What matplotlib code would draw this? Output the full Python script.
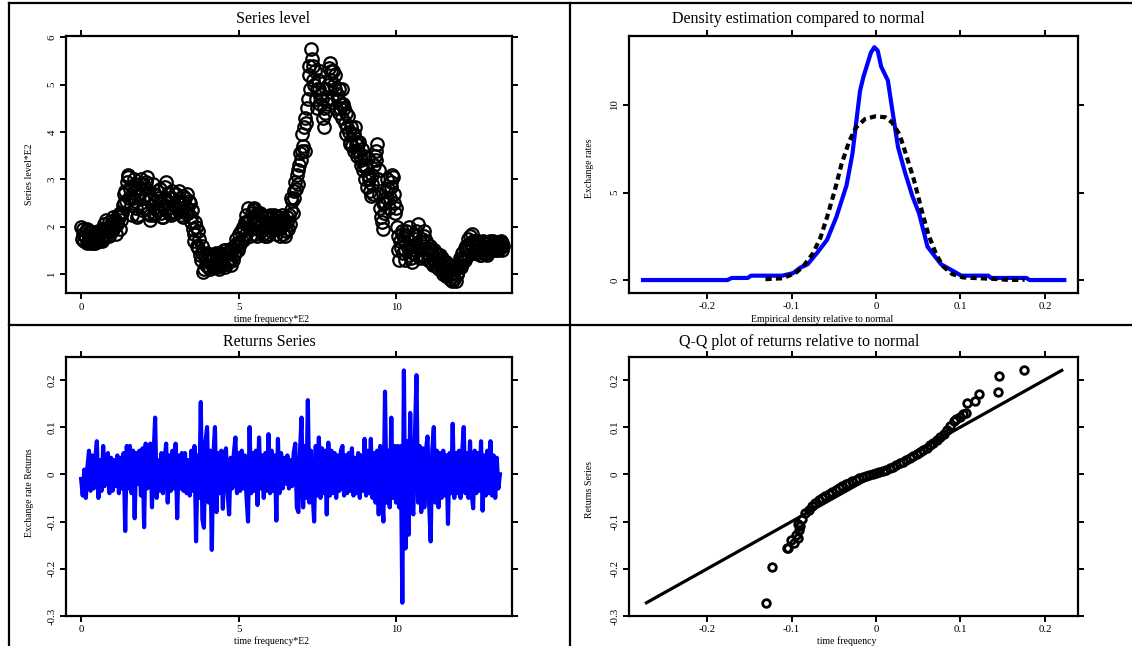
import matplotlib
matplotlib.use('Agg')
import matplotlib.pyplot as plt
from matplotlib.lines import Line2D
import numpy as np

plt.rcParams['font.family'] = ['Liberation Serif', 'DejaVu Serif']
plt.rcParams['axes.unicode_minus'] = False

# series level (*E2), one value every 0.025 time units
level = [
    2.0, 1.75, 1.85, 1.95, 1.7, 1.8, 1.9, 1.65, 1.95, 1.7, 1.75, 1.9, 1.65, 1.75, 1.8, 1.65, 1.8, 1.7, 1.65, 1.8,
    1.7, 1.9, 1.85, 1.7, 1.85, 1.75, 1.7, 1.95, 1.75, 2.05, 1.95, 1.8, 2.15, 1.95, 1.9, 2.1, 1.8, 2.0, 2.05, 1.9,
    2.2, 1.95, 2.0, 2.15, 1.85, 2.05, 2.1, 2.25, 2.2, 1.95, 2.3, 2.15, 2.3, 2.45, 2.5, 2.7, 2.75, 2.55, 2.95, 3.05,
    3.1, 2.6, 2.8, 2.45, 2.25, 2.85, 2.6, 3.0, 2.9, 2.55, 2.4, 2.2, 2.25, 2.8, 2.7, 2.9, 3.0, 2.35, 2.6, 2.9,
    2.4, 2.65, 2.8, 2.95, 3.05, 2.3, 2.6, 2.25, 2.15, 2.6, 2.45, 2.9, 2.7, 2.25, 2.3, 2.55, 2.35, 2.75, 2.6, 2.35,
    2.8, 2.3, 2.5, 2.2, 2.2, 2.45, 2.6, 2.85, 2.95, 2.5, 2.7, 2.3, 2.4, 2.6, 2.25, 2.75, 2.6, 2.3, 2.45, 2.7,
    2.3, 2.7, 2.55, 2.35, 2.75, 2.4, 2.5, 2.25, 2.35, 2.65, 2.2, 2.5, 2.6, 2.3, 2.4, 2.7, 2.3, 2.55, 2.5, 2.2,
    2.1, 2.35, 1.95, 1.7, 1.85, 2.1, 2.0, 1.6, 1.55, 1.9, 1.75, 1.4, 1.3, 1.6, 1.45, 1.05, 1.1, 1.4, 1.3, 1.2,
    1.45, 1.15, 1.25, 1.4, 1.1, 1.35, 1.3, 1.15, 1.4, 1.2, 1.2, 1.45, 1.15, 1.35, 1.35, 1.1, 1.45, 1.2, 1.25, 1.4,
    1.2, 1.5, 1.4, 1.15, 1.5, 1.25, 1.3, 1.45, 1.25, 1.5, 1.45, 1.2, 1.55, 1.3, 1.4, 1.6, 1.45, 1.75, 1.65, 1.5,
    1.85, 1.6, 1.65, 1.9, 1.7, 2.0, 1.95, 1.75, 2.1, 1.85, 2.25, 2.1, 2.4, 2.0, 2.15, 1.8, 1.95, 2.3, 2.2, 2.4,
    2.35, 1.85, 2.05, 2.3, 1.8, 2.15, 2.0, 2.3, 2.25, 1.9, 2.1, 1.85, 2.0, 2.2, 1.8, 2.1, 1.8, 2.2, 2.05, 1.85,
    2.25, 1.9, 2.05, 2.2, 1.95, 2.25, 2.15, 1.85, 2.2, 1.95, 1.95, 2.2, 1.8, 2.1, 2.0, 2.25, 2.15, 1.85, 2.05, 1.8,
    1.9, 2.2, 2.1, 1.95, 2.25, 2.05, 2.35, 2.6, 2.55, 2.3, 2.75, 2.6, 2.95, 2.8, 3.1, 2.9, 3.2, 3.3, 3.55, 3.4,
    3.95, 3.6, 3.7, 4.1, 3.6, 4.3, 4.2, 4.5, 4.7, 5.4, 5.2, 4.9, 5.75, 5.55, 5.4, 5.1, 5.0, 5.3, 4.7, 4.9,
    4.5, 5.1, 4.9, 4.6, 5.3, 4.8, 4.7, 4.3, 4.1, 4.5, 4.4, 4.9, 4.7, 4.6, 5.0, 5.35, 5.45, 5.1, 5.3, 4.7,
    5.3, 5.0, 4.9, 5.2, 4.5, 4.8, 4.7, 4.4, 4.9, 4.5, 4.6, 4.9, 4.3, 4.6, 4.5, 4.2, 4.4, 3.95, 4.1, 4.35,
    4.0, 3.75, 3.8, 4.1, 3.7, 3.95, 3.95, 3.6, 4.1, 3.75, 3.8, 3.5, 3.6, 3.8, 3.5, 3.3, 3.4, 3.65, 3.2, 3.5,
    3.0, 3.3, 3.25, 2.85, 3.45, 3.1, 3.0, 2.75, 2.65, 3.1, 2.9, 2.7, 3.3, 3.5, 3.6, 3.4, 3.75, 3.0, 3.2, 2.7,
    2.4, 2.2, 2.1, 2.5, 1.95, 2.3, 2.5, 2.75, 3.0, 2.6, 2.8, 2.4, 2.6, 2.95, 2.85, 3.1, 3.05, 2.5, 2.7, 2.3,
    2.4, 2.0, 1.8, 1.5, 1.3, 1.7, 1.55, 1.85, 1.9, 1.45, 1.7, 1.3, 1.5, 1.9, 1.8, 1.55, 2.0, 1.4, 1.6, 1.35,
    1.25, 1.6, 1.45, 1.85, 1.75, 1.5, 1.9, 1.6, 2.05, 1.55, 1.7, 1.35, 1.4, 1.75, 1.6, 1.9, 1.8, 1.35, 1.7, 1.45,
    1.55, 1.3, 1.4, 1.6, 1.25, 1.5, 1.45, 1.2, 1.5, 1.25, 1.3, 1.45, 1.15, 1.4, 1.3, 1.1, 1.4, 1.15, 1.2, 1.35,
    1.0, 1.25, 1.15, 0.95, 1.25, 1.0, 1.05, 1.2, 0.9, 1.1, 1.0, 0.85, 1.05, 0.95, 0.9, 1.1, 0.85, 1.0, 1.0, 1.2,
    1.15, 1.35, 1.3, 1.15, 1.45, 1.25, 1.35, 1.55, 1.3, 1.6, 1.55, 1.4, 1.75, 1.55, 1.8, 1.65, 1.85, 1.6, 1.7, 1.45,
    1.5, 1.7, 1.6, 1.45, 1.7, 1.5, 1.55, 1.4, 1.4, 1.6, 1.5, 1.7, 1.65, 1.45, 1.55, 1.4, 1.45, 1.65, 1.6, 1.5,
    1.7, 1.5, 1.6, 1.7, 1.5, 1.65, 1.6, 1.5, 1.65, 1.5, 1.55, 1.65, 1.55, 1.7, 1.65, 1.5, 1.6,
]

# returns, one value every 0.05 time units
returns = [
    -0.01, -0.045, 0.01, -0.05, 0.015, 0.05, -0.035, 0.04, -0.03, 0.035, 0.07, -0.05, 0.03, -0.035, 0.06, -0.025, 0.03, 0.045, -0.04, 0.035,
    -0.035, 0.03, -0.025, 0.04, -0.04, 0.035, -0.03, 0.045, -0.12, 0.06, -0.03, 0.06, -0.04, 0.05, -0.093, 0.045, -0.02, 0.05, -0.045, 0.055,
    -0.112, 0.065, -0.03, 0.05, 0.065, -0.07, 0.04, 0.12, -0.05, 0.03, -0.035, 0.045, -0.04, 0.03, 0.065, -0.06, 0.04, -0.035, 0.05, -0.03,
    0.065, -0.093, 0.04, -0.03, 0.045, -0.035, 0.045, -0.04, 0.03, -0.045, 0.05, -0.035, 0.06, -0.142, 0.04, -0.05, 0.153, -0.095, -0.113, 0.07,
    0.1, -0.06, 0.05, -0.16, 0.04, 0.1, -0.08, 0.045, -0.04, 0.05, -0.073, 0.04, 0.055, -0.04, -0.085, 0.035, -0.03, 0.045, 0.078, -0.04,
    0.045, -0.035, 0.05, -0.03, 0.04, -0.045, -0.1, 0.1, -0.04, 0.045, -0.035, 0.05, -0.065, 0.078, -0.03, 0.04, -0.05, 0.045, -0.035, 0.085,
    -0.04, 0.05, -0.035, 0.04, -0.098, 0.075, -0.04, 0.045, -0.03, 0.035, -0.02, 0.04, -0.03, 0.03, -0.025, 0.045, 0.065, -0.07, -0.08, 0.05,
    0.12, -0.07, 0.06, -0.05, 0.157, -0.06, 0.05, -0.04, -0.1, 0.06, -0.045, 0.078, -0.05, 0.055, -0.04, 0.05, -0.085, 0.067, -0.045, 0.05,
    -0.04, 0.045, -0.05, 0.04, -0.035, 0.05, 0.06, -0.045, 0.04, -0.04, 0.045, -0.035, 0.055, -0.045, 0.035, -0.04, 0.045, -0.05, 0.04, -0.035,
    0.075, -0.045, 0.05, -0.04, 0.075, -0.05, 0.045, -0.06, 0.05, -0.085, 0.06, -0.05, -0.1, 0.175, -0.06, 0.05, -0.07, 0.12, -0.05, 0.06,
    -0.06, 0.06, -0.07, 0.06, -0.272, 0.22, -0.157, 0.07, -0.128, 0.13, -0.06, -0.085, 0.08, 0.21, -0.06, 0.06, -0.08, 0.055, -0.07, 0.05,
    0.08, -0.06, -0.142, 0.05, 0.1, -0.06, 0.05, -0.07, 0.045, -0.05, 0.05, -0.045, 0.04, -0.105, 0.045, -0.04, 0.107, -0.05, 0.045, -0.04,
    0.05, -0.05, 0.045, 0.1, -0.04, 0.045, -0.05, 0.07, -0.04, -0.072, 0.05, -0.04, 0.045, -0.035, 0.07, -0.077, 0.04, -0.045, 0.05, -0.04,
    0.07, -0.045, 0.04, -0.05, 0.035, -0.03, 0.0,
]

# empirical density of returns
kde_x = [-0.276, -0.176, -0.171, -0.152, -0.148, -0.111, -0.098, -0.09, -0.081, -0.069,
         -0.058, -0.047, -0.035, -0.028, -0.019, -0.015, -0.006, -0.002, 0.002, 0.006,
         0.014, 0.019, 0.026, 0.034, 0.043, 0.051, 0.061, 0.077, 0.09, 0.101,
         0.133, 0.136, 0.178, 0.182, 0.223]
kde_y = [0.0, 0.0, 0.12, 0.12, 0.25, 0.25, 0.4, 0.7, 0.9, 1.6,
         2.3, 3.6, 5.4, 7.2, 10.8, 11.6, 13.0, 13.3, 13.1, 12.2,
         11.4, 9.8, 7.6, 6.2, 4.8, 3.8, 1.9, 0.9, 0.55, 0.25,
         0.25, 0.12, 0.12, 0.0, 0.0]

# normal density with the same moments
norm_x = [-0.131, -0.111, -0.103, -0.094, -0.086, -0.075, -0.066, -0.058, -0.049, -0.041,
          -0.032, -0.024, -0.013, -0.001, 0.011, 0.019, 0.028, 0.036, 0.045, 0.054,
          0.062, 0.071, 0.079, 0.09, 0.103, 0.124, 0.146, 0.158, 0.176]
norm_y = [0.05, 0.1, 0.25, 0.45, 0.8, 1.5, 2.4, 3.6, 5.1, 6.6,
          7.9, 8.7, 9.2, 9.35, 9.3, 9.0, 8.3, 7.1, 5.7, 4.0,
          2.6, 1.5, 0.8, 0.35, 0.15, 0.1, 0.05, 0.0, 0.02]

# Q-Q: normal quantiles vs sorted returns
qq_theory = [-0.130, -0.123, -0.106, -0.104, -0.101, -0.097, -0.095, -0.093, -0.091, -0.092, -0.090,
             -0.088, -0.084, -0.080, -0.076, -0.072, -0.068, -0.064, -0.060, -0.056, -0.052,
             -0.048, -0.044, -0.040, -0.036, -0.032, -0.028, -0.024, -0.020, -0.016, -0.012,
             -0.008, -0.004, 0.000, 0.004, 0.008, 0.012, 0.016, 0.020, 0.024, 0.028,
             0.032, 0.036, 0.040, 0.044, 0.048, 0.052, 0.056, 0.060, 0.064, 0.068,
             0.072, 0.076, 0.080, 0.084, 0.088,
             0.092, 0.095, 0.099, 0.103, 0.107, 0.108, 0.117, 0.122, 0.144, 0.146, 0.175]
qq_sample = [-0.272, -0.197, -0.157, -0.155, -0.140, -0.145, -0.128, -0.135, -0.118, -0.105, -0.110,
             -0.095, -0.082, -0.075, -0.068, -0.061, -0.055, -0.050, -0.045, -0.041, -0.037,
             -0.033, -0.028, -0.025, -0.021, -0.018, -0.014, -0.011, -0.008, -0.006, -0.003,
             -0.001, 0.001, 0.003, 0.005, 0.008, 0.010, 0.013, 0.016, 0.020, 0.023,
             0.027, 0.031, 0.034, 0.038, 0.042, 0.047, 0.052, 0.056, 0.062, 0.067,
             0.072, 0.078, 0.085, 0.094, 0.103,
             0.112, 0.117, 0.122, 0.127, 0.130, 0.150, 0.155, 0.171, 0.175, 0.209, 0.220]

W, H = 1132, 646
BLUE = '#0000ff'


def rect(left, right, top, bottom):
    return [left / W, 1 - bottom / H, (right - left) / W, (bottom - top) / H]


def px_text(x, y, s, **kw):
    fig.text(x / W, 1 - y / H, s, ha='center', va='center', **kw)


def style(ax, xticks, yticks, xlim, ylim):
    ax.set_xlim(xlim)
    ax.set_ylim(ylim)
    ax.set_xticks(xticks)
    ax.set_yticks(yticks)
    ax.set_xticklabels(['%g' % v for v in xticks])
    ax.set_yticklabels(['%g' % v for v in yticks], rotation=90, va='center')
    ax.tick_params(direction='out', length=4.5, width=1.4, labelsize=7.8, pad=2.2,
                   top=True, right=True, labeltop=False, labelright=False)
    for sp in ax.spines.values():
        sp.set_linewidth(1.6)


fig = plt.figure(figsize=(W / 100, H / 100), dpi=100)

# panel frame
for x0, y0, x1, y1 in [(9, 3, 9, H), (9, 3, W, 3), (570, 3, 570, H), (9, 325, W, 325)]:
    fig.add_artist(Line2D([x0 / W, x1 / W], [1 - y0 / H, 1 - y1 / H], color='black', lw=1.6))

# series level
ax1 = fig.add_axes(rect(65.7, 511.9, 36, 293.5))
t_level = np.arange(len(level)) * 0.025
ax1.plot(t_level, level, 'o', ms=9, mfc='none', mec='black', mew=1.6)
style(ax1, [0, 5, 10], [1, 2, 3, 4, 5, 6], (-0.49, 13.68), (0.59, 6.03))
px_text(273, 19, 'Series level', fontsize=11.5)
px_text(272, 319.5, 'time frequency*E2', fontsize=7)
px_text(29, 174, 'Series level*E2', fontsize=7, rotation=90)

# density vs normal
ax2 = fig.add_axes(rect(628.7, 1077.8, 36, 293))
ax2.plot(kde_x, kde_y, color=BLUE, lw=3)
ax2.plot(norm_x, norm_y, color='black', lw=3, linestyle=(0, (1.5, 1)))
style(ax2, [-0.2, -0.1, 0, 0.1, 0.2], [0, 5, 10], (-0.293, 0.239), (-0.74, 13.94))
px_text(798, 19, 'Density estimation compared to normal', fontsize=11.5)
px_text(822, 319.5, 'Empirical density relative to normal', fontsize=7)
px_text(590, 168, 'Exchange rates', fontsize=7, rotation=90)

# returns
ax3 = fig.add_axes(rect(65.7, 511.9, 356.7, 616))
t_ret = np.arange(len(returns)) * 0.05
ax3.plot(t_ret, returns, color=BLUE, lw=3)
style(ax3, [0, 5, 10], [-0.3, -0.2, -0.1, 0, 0.1, 0.2], (-0.49, 13.68), (-0.3, 0.249))
px_text(269, 342, 'Returns Series', fontsize=11.5)
px_text(272, 641.5, 'time frequency*E2', fontsize=7)
px_text(29, 493, 'Exchange rate Returns', fontsize=7, rotation=90)

# Q-Q plot
ax4 = fig.add_axes(rect(628.7, 1077.8, 356.7, 616))
lo, hi = min(returns), max(returns)
ax4.plot([lo, hi], [lo, hi], color='black', lw=2.3)
ax4.plot(qq_theory, qq_sample, 'o', ms=5.5, mfc='none', mec='black', mew=2)
style(ax4, [-0.2, -0.1, 0, 0.1, 0.2], [-0.3, -0.2, -0.1, 0, 0.1, 0.2], (-0.293, 0.239), (-0.3, 0.249))
px_text(799, 342, 'Q-Q plot of returns relative to normal', fontsize=11.5)
px_text(847, 641.5, 'time frequency', fontsize=7)
px_text(590, 490, 'Returns Series', fontsize=7, rotation=90)

fig.savefig('out.png', dpi=100)
